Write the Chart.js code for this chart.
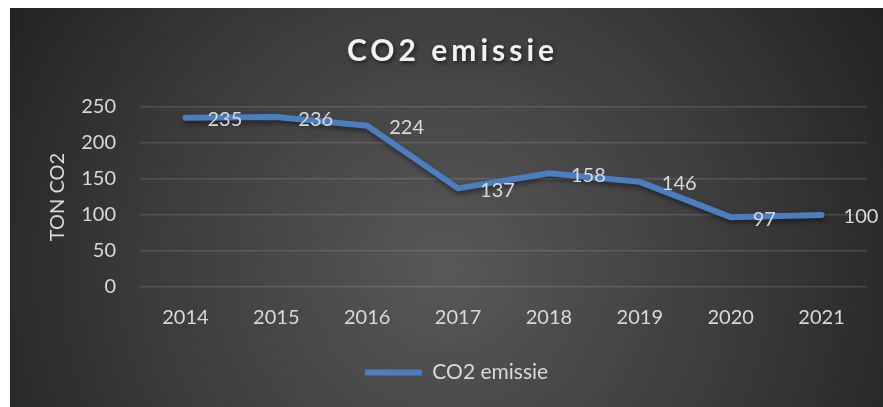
<!DOCTYPE html>
<html>
<head>
<meta charset="utf-8">
<script src="https://cdn.jsdelivr.net/npm/chart.js@4.4.1/dist/chart.umd.min.js"></script>
<style>
  html, body { margin: 0; padding: 0; background: #fff; }
  #wrap { width: 883px; height: 407px; position: relative; }
</style>
</head>
<body>
<div id="wrap"><canvas id="co2Chart"></canvas></div>
<script>
// === data ===
const years = ['2014', '2015', '2016', '2017', '2018', '2019', '2020', '2021'];
const emissie = [235, 236, 224, 137, 158, 146, 97, 100];
const yTicks = [0, 50, 100, 150, 200, 250];

const textColor = '#d9d9d9';
const lineColor = '#4a7ebf';

Chart.defaults.font.family = 'Lato, "Open Sans", sans-serif';

// achtergrond: wit randje + donkere radiale gradient
const bgPlugin = {
    id: 'bg',
    beforeDraw(chart) {
        const ctx = chart.ctx;
        const w = chart.width, h = chart.height;
        ctx.save();
        ctx.fillStyle = '#ffffff';
        ctx.fillRect(0, 0, w, h);
        const g = ctx.createRadialGradient(445, 270, 0, 445, 270, 540);
        g.addColorStop(0, '#585858');
        g.addColorStop(0.55, '#3b3b3b');
        g.addColorStop(1, '#1f1f1f');
        ctx.fillStyle = g;
        ctx.fillRect(10, 8, w - 10, h - 8);
        ctx.restore();
    },
    // legenda en titel iets naar rechts, zoals in het origineel
    afterLayout(chart) {
        if (chart.legend) {
            chart.legend.left += 18;
            chart.legend.right += 18;
        }
        if (chart.titleBlock) {
            chart.titleBlock.left += 14;
            chart.titleBlock.right += 14;
        }
    }
};

// schaduw onder de lijn
const shadowPlugin = {
    id: 'lineShadow',
    beforeDatasetDraw(chart) {
        const ctx = chart.ctx;
        ctx.save();
        ctx.shadowColor = 'rgba(0,0,0,0.45)';
        ctx.shadowBlur = 5;
        ctx.shadowOffsetX = 1;
        ctx.shadowOffsetY = 3;
    },
    afterDatasetDraw(chart) {
        chart.ctx.restore();
    }
};

// data labels rechts van elk punt
const labelPlugin = {
    id: 'valueLabels',
    afterDatasetsDraw(chart) {
        const ctx = chart.ctx;
        const meta = chart.getDatasetMeta(0);
        const data = chart.data.datasets[0].data;
        ctx.save();
        ctx.font = '20px Lato, "Open Sans", sans-serif';
        ctx.fillStyle = textColor;
        ctx.textAlign = 'left';
        ctx.textBaseline = 'middle';
        meta.data.forEach((pt, i) => {
            ctx.fillText(String(data[i]), pt.x + 22, pt.y + 2);
        });
        ctx.restore();
    }
};

const ctx = document.getElementById('co2Chart').getContext('2d');

const chart = new Chart(ctx, {
    type: 'line',
    data: {
        labels: years,
        datasets: [{
            label: 'CO2 emissie',
            data: emissie,
            borderColor: lineColor,
            backgroundColor: lineColor,
            borderWidth: 6,
            borderCapStyle: 'round',
            borderJoinStyle: 'round',
            tension: 0,
            pointRadius: 0,
            pointHoverRadius: 0,
            fill: false
        }]
    },
    options: {
        responsive: true,
        maintainAspectRatio: false,
        animation: false,
        events: [],
        layout: {
            padding: { left: 10, right: 16, top: 8, bottom: 14 }
        },
        plugins: {
            title: {
                display: true,
                text: 'CO2 emissie',
                color: '#f2f2f2',
                font: { size: 30, weight: 'bold' },
                padding: { top: 25, bottom: 38 }
            },
            legend: {
                display: true,
                position: 'bottom',
                labels: {
                    color: textColor,
                    font: { size: 21 },
                    usePointStyle: true,
                    pointStyle: 'line',
                    pointStyleWidth: 57,
                    padding: 10
                }
            },
            tooltip: { enabled: false }
        },
        scales: {
            x: {
                offset: true,
                grid: { display: false, drawTicks: false },
                border: { display: false },
                ticks: { color: textColor, font: { size: 20 }, padding: 19, maxRotation: 0 },
                afterFit(scale) { scale.height = 65; }
            },
            y: {
                min: 0,
                max: 250,
                afterBuildTicks(scale) {
                    scale.ticks = yTicks.map(v => ({ value: v }));
                },
                grid: { color: 'rgba(255,255,255,0.13)', lineWidth: 1.5, drawTicks: false },
                border: { display: false },
                ticks: { color: textColor, font: { size: 20 }, padding: 24 },
                title: {
                    display: true,
                    text: 'TON CO2',
                    color: textColor,
                    font: { size: 20 },
                    padding: { top: 36, bottom: 0 }
                },
                afterFit(scale) { scale.width = 130; }
            }
        }
    },
    plugins: [bgPlugin, shadowPlugin, labelPlugin]
});

// titel met letterafstand en lichte schaduw
const titleBlock = chart.titleBlock;
if (titleBlock) {
    const origDraw = titleBlock.draw.bind(titleBlock);
    titleBlock.draw = function () {
        const c = chart.ctx;
        c.save();
        c.letterSpacing = '4px';
        c.shadowColor = 'rgba(0,0,0,0.6)';
        c.shadowBlur = 4;
        c.shadowOffsetX = 1.5;
        c.shadowOffsetY = 2;
        origDraw();
        c.restore();
    };
    chart.draw();
}
</script>
</body>
</html>
